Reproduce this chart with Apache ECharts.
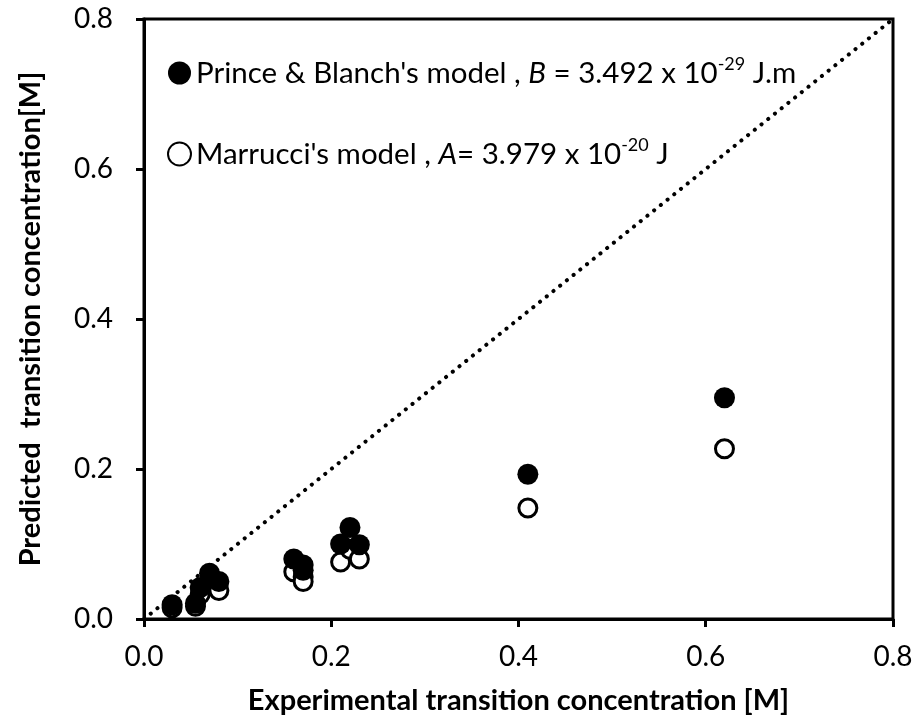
<!DOCTYPE html>
<html>
<head>
<meta charset="utf-8">
<script src="https://cdn.jsdelivr.net/npm/echarts@6/dist/echarts.min.js"></script>
<style>
  html, body { margin: 0; padding: 0; background: #fff; }
  #chart { width: 917px; height: 719px; }
</style>
</head>
<body>
<div id="chart"></div>
<script>
// experimental transition concentration [M]
const experimental = [0.03, 0.055, 0.06, 0.07, 0.08, 0.16, 0.17, 0.17, 0.21, 0.22, 0.23, 0.41, 0.62];
// predicted, Prince & Blanch's model
const princeBlanch = [0.019, 0.021, 0.042, 0.061, 0.050, 0.080, 0.072, 0.065, 0.100, 0.122, 0.099, 0.193, 0.295];
// predicted, Marrucci's model
const marrucci = [0.015, 0.017, 0.033, 0.047, 0.038, 0.063, 0.056, 0.050, 0.076, 0.093, 0.080, 0.148, 0.227];
// parity line
const parity = [[0, 0], [0.8, 0.8]];

const font = 'Lato';
const pairs = (xs, ys) => xs.map((x, i) => [x, ys[i]]);

const myChart = echarts.init(document.getElementById('chart'));

const legendText = {
  'Prince & Blanch': "{t|Prince & Blanch's model , }{i|B}{t| = 3.492 x 10}{s|-29}{t| J.m}",
  'Marrucci': "{t|Marrucci's model , }{i|A}{t|= 3.979 x 10}{s|-20}{t| J}"
};

const axisCommon = {
  type: 'value',
  min: 0, max: 0.8, interval: 0.2,
  nameLocation: 'middle',
  nameTextStyle: { fontFamily: font, fontSize: 29, fontWeight: 'bold', color: '#000' },
  axisLine: { lineStyle: { color: '#000', width: 3 } },
  axisTick: { inside: false, length: 8, lineStyle: { color: '#000', width: 3 } },
  splitLine: { show: false }
};

const option = {
  animation: false,
  backgroundColor: '#fff',
  grid: {
    left: 144, right: 24, top: 19, bottom: 100,
    outerBoundsMode: 'none',
    containLabel: false,
    show: true, borderColor: '#000', borderWidth: 3
  },
  legend: {
    data: ['Prince & Blanch', 'Marrucci'],
    orient: 'vertical',
    left: 167,
    top: 55,
    padding: 0,
    itemWidth: 23,
    itemHeight: 23,
    itemGap: 48,
    formatter: name => legendText[name],
    textStyle: {
      rich: {
        t: { fontFamily: font, fontSize: 29.5, color: '#000', lineHeight: 36 },
        i: { fontFamily: font, fontSize: 29.5, color: '#000', fontStyle: 'italic', lineHeight: 36 },
        s: { fontFamily: font, fontSize: 18, color: '#000', verticalAlign: 'top', lineHeight: 20 }
      }
    }
  },
  xAxis: Object.assign({}, axisCommon, {
    name: 'Experimental transition concentration [M]',
    nameGap: 67,
    axisLabel: {
      margin: 24,
      fontFamily: font, fontSize: 28, color: '#000',
      formatter: v => v.toFixed(1)
    }
  }),
  yAxis: Object.assign({}, axisCommon, {
    name: 'Predicted  transition concentration[M]',
    nameGap: 99,
    axisLabel: {
      margin: 31,
      fontFamily: font, fontSize: 28, color: '#000',
      formatter: v => v.toFixed(1)
    }
  }),
  series: [
    {
      name: 'parity',
      type: 'line',
      data: parity,
      symbol: 'none',
      silent: true,
      lineStyle: { color: '#000', width: 4, type: [0.1, 8.5], cap: 'round' },
      z: 1
    },
    {
      name: 'Prince & Blanch',
      type: 'scatter',
      data: pairs(experimental, princeBlanch),
      symbol: 'circle',
      symbolSize: 21,
      itemStyle: { color: '#000', opacity: 1 },
      z: 3
    },
    {
      name: 'Marrucci',
      type: 'scatter',
      data: pairs(experimental, marrucci),
      symbol: 'circle',
      symbolSize: 18,
      itemStyle: { color: '#fff', borderColor: '#000', borderWidth: 3, opacity: 1 },
      z: 2
    }
  ]
};

myChart.setOption(option);
</script>
</body>
</html>
